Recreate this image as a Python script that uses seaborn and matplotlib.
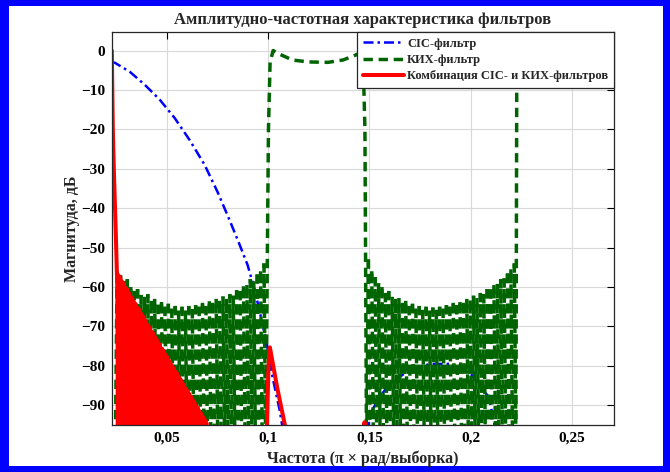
import numpy as np
import pandas as pd
import matplotlib
matplotlib.use("Agg")
import matplotlib.pyplot as plt
from matplotlib.patches import Rectangle
import seaborn as sns

# ---------------- data ----------------
# CIC filter (main lobe + first side lobe), frequency in pi*rad/sample, dB
cic_freq = [0.0228, 0.0244, 0.0318, 0.0392, 0.0466, 0.0539, 0.0613, 0.0687,
            0.0751, 0.0810, 0.0860, 0.0899, 0.0934, 0.0968, 0.0993, 0.1022,
            0.1057, 0.1076, 0.1090,
            0.1460, 0.1500, 0.1550, 0.1600, 0.1700, 0.1800, 0.1900, 0.2000,
            0.2060, 0.2090, 0.2116, 0.2150]
cic_db = [-2.9, -3.1, -5.4, -8.7, -12.5, -17.1, -22.7, -29.0,
          -35.9, -43.0, -49.3, -54.4, -60.7, -68.3, -74.2, -82.8,
          -91.2, -97.0, -130.0,
          -130.0, -92.5, -88.0, -84.5, -81.0, -79.5, -79.5, -82.0,
          -86.0, -88.0, -94.5, -110.0]

# FIR filter: stop-band lobe peaks (left and right stop bands)
fir_left_band = (0.0255, 0.0980)
fir_left_peaks = [-56.0, -57.0, -58.5, -58.0, -60.0, -61.0, -60.5, -62.0, -62.5,
                  -61.8, -63.5, -63.0, -64.5, -63.8, -65.0, -64.2, -65.5, -64.8,
                  -66.0, -65.0, -66.0, -64.8, -65.6, -64.6, -65.0, -64.0, -64.8,
                  -63.6, -64.0, -63.0, -63.5, -62.4, -63.0, -61.8, -62.2, -60.8,
                  -61.0, -59.8, -59.5, -58.0, -58.6, -56.8, -56.0, -54.0]
fir_right_band = (0.1495, 0.2215)
fir_right_peaks = [-53.0, -56.0, -57.5, -59.0, -60.0, -61.5, -61.0, -62.5, -63.0,
                   -62.8, -64.0, -63.5, -64.8, -64.2, -65.5, -64.8, -65.8, -65.0,
                   -66.0, -65.2, -65.8, -65.0, -65.5, -64.6, -65.0, -64.0, -64.6,
                   -63.8, -64.0, -63.0, -63.4, -62.2, -62.8, -61.5, -61.8, -60.5,
                   -60.6, -59.5, -59.2, -58.0, -57.8, -56.5, -55.5, -54.0]
FIR_NULL_DB = -101.2  # depth of the FIR stop-band nulls (below the plotted range)
# FIR pass band
fir_pass_freq = [0.0988, 0.0996, 0.1002, 0.1010, 0.1025, 0.1060, 0.1120, 0.1200,
                 0.1296, 0.1370, 0.1430, 0.1468, 0.1478, 0.1486]
fir_pass_db = [-101.2, -55.0, -20.0, -3.0, 0.0, -1.0, -2.4, -2.9,
               -3.0, -2.4, -1.2, -0.2, -20.0, -101.2]
# FIR upper transition edge (end of the data)
fir_edge_freq = [0.2223, 0.2227]
fir_edge_db = [-101.2, -10.5]

# Combination of CIC and FIR
comb_start_freq = [0.0229, 0.0231, 0.0234, 0.0240, 0.0248, 0.0256, 0.0260]
comb_start_db = [0.0, -8.0, -20.0, -32.0, -45.0, -60.0, -100.0]
comb_band = (0.0262, 0.0704)
comb_peaks = [-57.0, -57.5, -58.6, -59.0, -60.1, -60.6, -61.5, -62.3, -62.9,
              -63.8, -64.3, -65.3, -65.7, -66.7, -67.3, -68.1, -68.8, -69.7,
              -70.2, -71.2, -71.7, -72.6, -73.2, -74.1, -74.6, -75.6, -76.1,
              -77.0, -77.6, -78.4, -79.1, -79.9, -80.5, -81.4, -81.9, -82.8,
              -83.4, -84.3, -84.8, -85.7, -86.3, -87.1, -87.8, -88.6, -89.2,
              -90.1, -90.6, -91.5, -92.1, -92.9, -93.6, -94.4, -95.5]
COMB_NULL_DB = -100.0
comb_mid_freq = [0.0985, 0.0995, 0.1001, 0.1006, 0.1009, 0.1045, 0.1083, 0.1095,
                 0.1462, 0.1476, 0.1490]
comb_mid_db = [-120.0, -95.0, -82.0, -76.0, -75.3, -85.5, -95.0, -120.0,
               -120.0, -94.3, -120.0]

labels = ["CIC-фильтр", "КИХ-фильтр", "Комбинация CIC- и КИХ-фильтров"]
title = "Амплитудно-частотная характеристика фильтров"
xlabel = "Частота (π × рад/выборка)"
ylabel = "Магнитуда, дБ"
x_ticks = [0.05, 0.10, 0.15, 0.20, 0.25]
x_tick_labels = ["0,05", "0,1", "0,15", "0,2", "0,25"]
y_ticks = [0, -10, -20, -30, -40, -50, -60, -70, -80, -90]
y_tick_labels = ["0", "−10", "−20", "−30", "−40", "−50", "−60", "−70", "−80", "−90"]


def lobe_centers(band, peaks):
    centers = np.linspace(band[0], band[1], len(peaks))
    return centers, (centers[1] - centers[0]) / 2


def lobe_path(band, peaks, floor):
    """One continuous zig-zag through the lobe peaks and the nulls between them."""
    centers, half = lobe_centers(band, peaks)
    xs, ys = [], []
    for c, p in zip(centers, peaks):
        xs += [c - half, c]
        ys += [floor, p]
    xs.append(centers[-1] + half)
    ys.append(floor)
    return xs, ys


def lobe_strokes(band, peaks, floor, first_id):
    """Each flank of every lobe as its own segment (dash pattern restarts per segment)."""
    centers, half = lobe_centers(band, peaks)
    rows, uid = [], first_id
    for c, p in zip(centers, peaks):
        rows += [(c - half, floor, uid), (c, p, uid)]          # rising flank
        rows += [(c, p, uid + 1), (c + half, floor, uid + 1)]  # falling flank
        uid += 2
    return rows, uid


# FIR frame, one unit per segment
fir_rows = [(f, d, 0) for f, d in zip(fir_pass_freq, fir_pass_db)]
fir_rows += [(f, d, 1) for f, d in zip(fir_edge_freq, fir_edge_db)]
r1, nid = lobe_strokes(fir_left_band, fir_left_peaks, FIR_NULL_DB, 2)
r2, nid = lobe_strokes(fir_right_band, fir_right_peaks, FIR_NULL_DB, nid)
fir_df = pd.DataFrame(fir_rows + r1 + r2, columns=["f", "db", "seg"])

cx, cy = lobe_path(comb_band, comb_peaks, COMB_NULL_DB)
comb_df = pd.DataFrame({"f": comb_start_freq + cx + comb_mid_freq,
                        "db": comb_start_db + cy + comb_mid_db})
cic_df = pd.DataFrame({"f": cic_freq, "db": cic_db})

# ---------------- style ----------------
sns.set_style("white")
plt.rcParams["font.family"] = ["Liberation Serif", "DejaVu Serif"]
plt.rcParams["font.weight"] = "bold"
plt.rcParams["axes.labelweight"] = "bold"
plt.rcParams["axes.titleweight"] = "bold"

fig = plt.figure(figsize=(6.70, 4.72), dpi=100)
fig.patch.set_facecolor("#0000ff")
fig.add_artist(Rectangle((9 / 670, 6 / 472), (663 - 9) / 670, (466 - 6) / 472,
                         transform=fig.transFigure, facecolor="white",
                         edgecolor="none", zorder=-5))
ax = fig.add_axes([112 / 670, 47 / 472, 502 / 670, 393 / 472])
ax.set_facecolor("white")

n0 = len(ax.lines)
sns.lineplot(data=cic_df, x="f", y="db", ax=ax, sort=False, estimator=None,
             color="#0000ff", linewidth=1.8)
cic_lines = ax.lines[n0:]
for ln in cic_lines:
    ln.set_linestyle((0, (4.0, 1.6, 1.0, 1.6)))

n0 = len(ax.lines)
sns.lineplot(data=fir_df, x="f", y="db", units="seg", ax=ax, sort=False,
             estimator=None, color="#006400", linewidth=2.5)
fir_lines = ax.lines[n0:]
for ln in fir_lines:
    ln.set_linestyle((0, (2.7, 1.65)))

n0 = len(ax.lines)
sns.lineplot(data=comb_df, x="f", y="db", ax=ax, sort=False, estimator=None,
             color="#ff0000", linewidth=2.9)
comb_lines = ax.lines[n0:]
for ln in comb_lines:
    ln.set_linestyle("-")

ax.set_xlim(0.0230, 0.2707)
ax.set_ylim(-95, 4.7)
ax.set_xticks(x_ticks)
ax.set_xticklabels(x_tick_labels)
ax.set_yticks(y_ticks)
ax.set_yticklabels(y_tick_labels)
ax.tick_params(direction="in", length=5, width=0.8, top=True, right=True,
               labelsize=11, pad=5, colors="black")
ax.grid(True, color="#d9d9d9", linewidth=0.8)
ax.set_axisbelow(True)
for s in ax.spines.values():
    s.set_color("#262626")
    s.set_linewidth(0.9)

ax.set_title(title, fontsize=12, fontweight="bold", pad=6)
ax.set_xlabel(xlabel, fontsize=11.5, fontweight="bold", labelpad=4)
ax.set_ylabel(ylabel, fontsize=11.5, fontweight="bold", labelpad=1)

leg = ax.legend([cic_lines[0], fir_lines[0], comb_lines[0]], labels,
                loc="upper right", borderaxespad=0, fancybox=False,
                edgecolor="#262626", framealpha=1, handlelength=3.3,
                handletextpad=0.25, borderpad=0.45, labelspacing=0.35,
                prop={"family": "Liberation Serif", "weight": "bold", "size": 9})
leg.get_frame().set_linewidth(0.9)

fig.savefig("out.png", dpi=100, facecolor=fig.get_facecolor())
